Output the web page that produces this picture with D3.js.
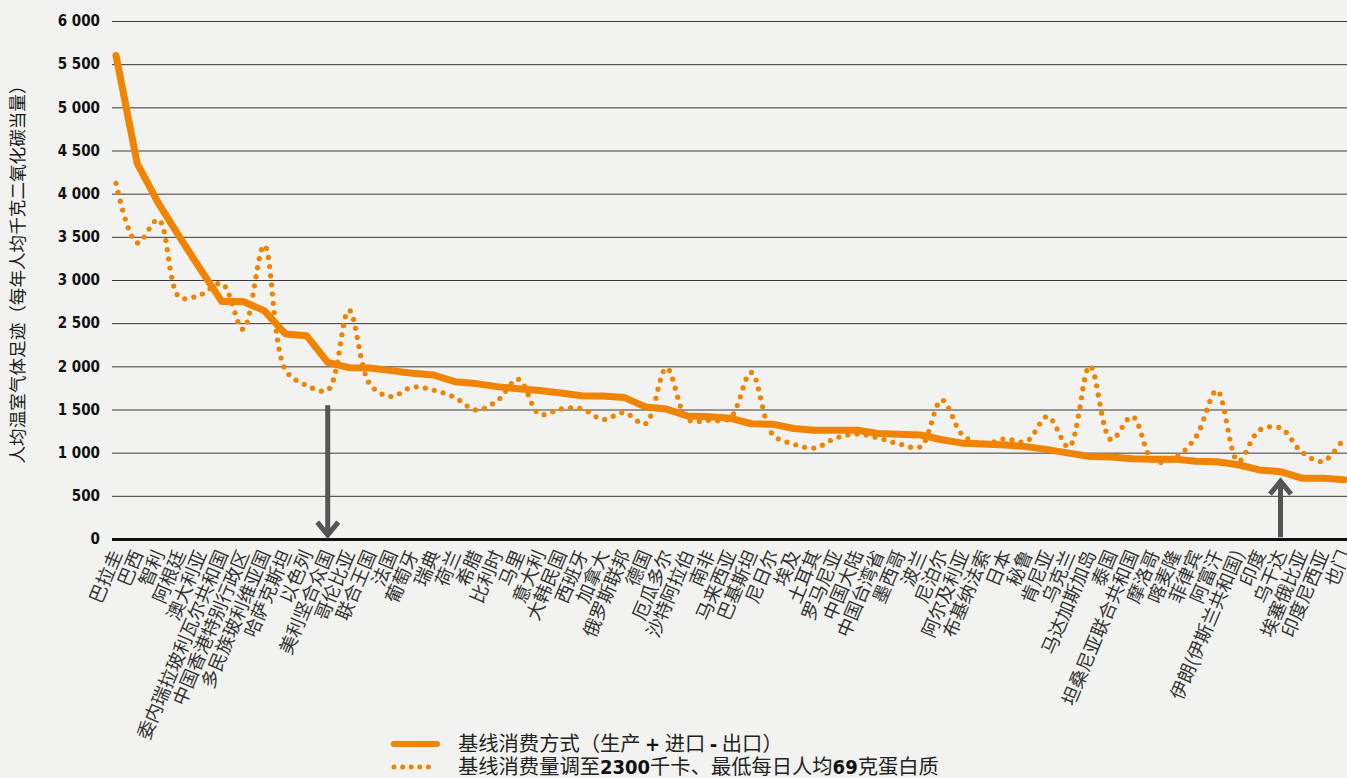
<!DOCTYPE html>
<html>
<head>
<meta charset="utf-8">
<script src="https://cdn.jsdelivr.net/npm/d3@7"></script>
<style>
  html, body { margin: 0; padding: 0; background: #f2f3f1; }
  svg { display: block; }
  .cjk { font-family: "Noto Sans CJK SC", "Noto Sans", sans-serif; }
  .num { font-family: "Liberation Sans Narrow", "DejaVu Sans Condensed", "Liberation Sans", sans-serif; font-weight: bold; }
</style>
</head>
<body>
<svg id="chart" width="1347" height="778"></svg>
<script>
// Countries, sorted by baseline per-capita footprint
const categories = [
  "巴拉圭", "巴西", "智利", "阿根廷", "澳大利亚", "委内瑞拉玻利瓦尔共和国", "中国香港特别行政区",
  "多民族玻利维亚国", "哈萨克斯坦", "以色列", "美利坚合众国", "哥伦比亚", "联合王国", "法国",
  "葡萄牙", "瑞典", "荷兰", "希腊", "比利时", "马里", "意大利", "大韩民国", "西班牙", "加拿大",
  "俄罗斯联邦", "德国", "厄瓜多尔", "沙特阿拉伯", "南非", "马来西亚", "巴基斯坦", "尼日尔", "埃及",
  "土耳其", "罗马尼亚", "中国大陆", "中国台湾省", "墨西哥", "波兰", "尼泊尔", "阿尔及利亚",
  "布基纳法索", "日本", "秘鲁", "肯尼亚", "乌克兰", "马达加斯加岛", "泰国", "坦桑尼亚联合共和国",
  "摩洛哥", "喀麦隆", "菲律宾", "阿富汗", "伊朗(伊斯兰共和国)", "印度", "乌干达", "埃塞俄比亚",
  "印度尼西亚", "也门"
];

// Baseline consumption (production + imports - exports), kg CO2-eq per person per year
const baseline = [
  5600, 4350, 3890, 3500, 3120, 2750, 2750, 2645, 2375, 2355,
  2045, 1985, 1980, 1950, 1920, 1900, 1822, 1800, 1765, 1740,
  1720, 1690, 1660, 1655, 1640, 1530, 1505, 1425, 1415, 1400,
  1335, 1330, 1280, 1260, 1260, 1260, 1222, 1212, 1205, 1150,
  1110, 1100, 1090, 1070, 1035, 995, 955, 950, 930, 925,
  925, 900, 895, 860, 800, 780, 705, 705, 685
];

// Consumption adjusted to 2300 kcal and 69 g protein per person per day
const adjusted = [
  4120, 3430, 3700, 2800, 2830, 2960, 2430, 3400, 1960, 1780,
  1725, 2650, 1790, 1650, 1760, 1725, 1640, 1495, 1600, 1850,
  1445, 1505, 1510, 1385, 1465, 1335, 1980, 1385, 1375, 1400,
  1930, 1215, 1100, 1055, 1170, 1215, 1170, 1100, 1070, 1610,
  1200, 1100, 1160, 1130, 1420, 1065, 2005, 1150, 1420, 900,
  940, 1180, 1720, 900, 1260, 1285, 1010, 900, 1170
];

const yTicks = [0, 500, 1000, 1500, 2000, 2500, 3000, 3500, 4000, 4500, 5000, 5500, 6000];

// Highlighted countries: arrows from / to the axis
const arrowDown = { country: "美利坚合众国", from: 1550, to: 45 };
const arrowUp = { country: "乌干达", from: 20, to: 670 };

const yTitle = "人均温室气体足迹（每年人均千克二氧化碳当量）";
const legendItems = [
  { dotted: false, parts: [["基线消费方式（生产 ", false], ["+", true], [" 进口 ", false], ["-", true], [" 出口）", false]] },
  { dotted: true, parts: [["基线消费量调至", false], ["2300", true], ["千卡、最低每日人均", false], ["69", true], ["克蛋白质", false]] }
];

const W = 1347, H = 778;
const orange = "#f08300";
const svg = d3.select("#chart");

svg.append("rect").attr("width", W).attr("height", H).attr("fill", "#f2f3f1");

const x = d3.scalePoint().domain(categories).range([116, 1344]);
const y = d3.scaleLinear().domain([0, 6000]).range([539, 21]);

const fmt = d3.formatLocale({ decimal: ".", thousands: " ", grouping: [3], currency: ["", ""] }).format(",");

// Horizontal gridlines and value labels
const yAxis = d3.axisLeft(y).tickValues(yTicks).tickFormat(fmt).tickSize(-(W - 112)).tickPadding(12);
const gy = svg.append("g").attr("transform", "translate(112,0)").call(yAxis);
gy.select(".domain").remove();
gy.selectAll(".tick line").attr("stroke", "#3a3a3a").attr("stroke-width", 1);
gy.selectAll(".tick text")
  .attr("class", "num").attr("fill", "#111").attr("font-size", 15);
gy.selectAll(".tick").filter(d => d === 0).select("line").attr("stroke", "#111").attr("stroke-width", 3);

// Category axis with rotated labels
const xAxis = d3.axisBottom(x).tickSize(0).tickPadding(0);
const gx = svg.append("g").attr("transform", "translate(0,539)").call(xAxis);
gx.select(".domain").remove();
gx.selectAll(".tick text")
  .attr("class", "cjk")
  .attr("fill", "#333")
  .attr("font-size", 18.5)
  .attr("text-anchor", "end")
  .attr("x", 0).attr("y", 0)
  .attr("dy", "0.36em")
  .attr("transform", "translate(0,12) rotate(-67)");

// Y axis title
svg.append("text")
  .attr("class", "cjk")
  .attr("transform", "translate(18,270) rotate(-90)")
  .attr("text-anchor", "middle")
  .attr("dy", "0.35em")
  .attr("font-size", 17.6)
  .attr("fill", "#1a1a1a")
  .text(yTitle);

// Adjusted consumption: dotted smooth line
const lineAdj = d3.line()
  .x((d, i) => x(categories[i]))
  .y(d => y(d))
  .curve(d3.curveCatmullRom.alpha(0.5));
svg.append("path")
  .datum(adjusted)
  .attr("d", lineAdj)
  .attr("fill", "none")
  .attr("stroke", orange)
  .attr("stroke-width", 5.2)
  .attr("stroke-linecap", "round")
  .attr("stroke-dasharray", "0 9.2");

// Baseline consumption: thick solid line
const lineBase = d3.line()
  .x((d, i) => x(categories[i]))
  .y(d => y(d));
svg.append("path")
  .datum(baseline)
  .attr("d", lineBase)
  .attr("fill", "none")
  .attr("stroke", orange)
  .attr("stroke-width", 7)
  .attr("stroke-linejoin", "round")
  .attr("stroke-linecap", "round");

// Arrows
function drawArrow(a) {
  const ax = x(a.country);
  const y0 = y(a.from), y1 = y(a.to);
  const dir = y1 > y0 ? 1 : -1;
  const g = svg.append("g").attr("stroke", "#555").attr("stroke-width", 5).attr("fill", "none");
  g.append("line").attr("x1", ax).attr("x2", ax).attr("y1", y0).attr("y2", y1 - dir * 2);
  g.append("path")
    .attr("d", `M${ax - 10.5},${y1 - dir * 13} L${ax},${y1} L${ax + 10.5},${y1 - dir * 13}`)
    .attr("stroke-linejoin", "miter");
}
drawArrow(arrowDown);
drawArrow(arrowUp);

// Legend
const lg = svg.append("g");
legendItems.forEach((item, i) => {
  const ly = 744 + i * 23;
  lg.append("line")
    .attr("x1", 394).attr("x2", 437).attr("y1", ly).attr("y2", ly)
    .attr("stroke", orange)
    .attr("stroke-width", item.dotted ? 5 : 6)
    .attr("stroke-linecap", "round")
    .attr("stroke-dasharray", item.dotted ? "0 8.6" : null);
  const t = lg.append("text")
    .attr("class", "cjk")
    .attr("x", 458).attr("y", ly).attr("dy", "0.36em")
    .attr("font-size", 20.3).attr("fill", "#222");
  item.parts.forEach(([s, isNum]) => {
    const sp = t.append("tspan").text(s);
    if (isNum) sp.attr("class", "num").attr("font-size", 20).attr("fill", "#111");
  });
});
</script>
</body>
</html>
